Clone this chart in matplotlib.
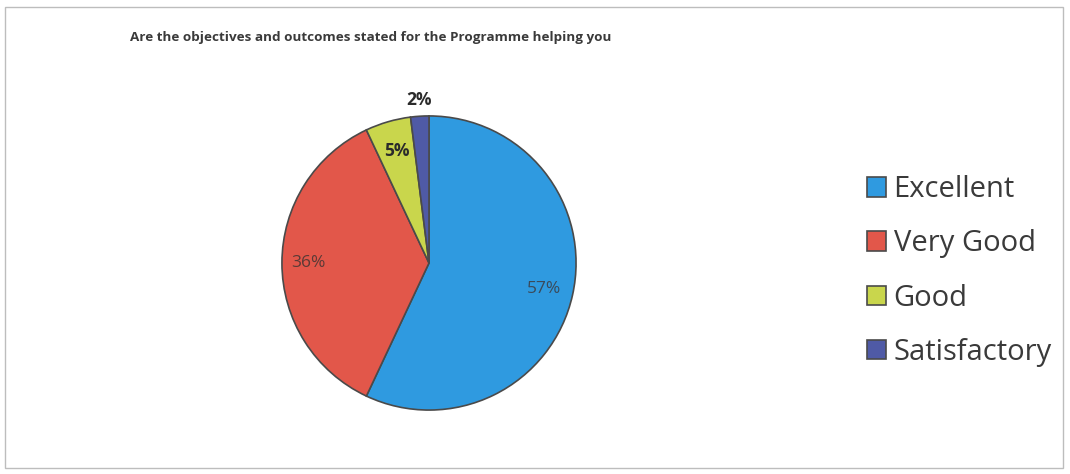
import matplotlib.pyplot as plt
import numpy as np
from matplotlib.patches import Rectangle

categories = ["Excellent", "Very Good", "Good", "Satisfactory"]
shares = [57, 36, 5, 2]
colors = ["#2f9ae0", "#e2574a", "#c9d64c", "#4f5aa6"]
label_colors = ["#3a4a5a", "#5a3a36", "#2b2b2b", "#2b2b2b"]
label_weights = ["normal", "normal", "bold", "bold"]
label_distances = [0.8, 0.82, 0.79, 1.11]
title = "Are the objectives and outcomes stated for the Programme helping you"

W, H = 1070, 474
figure = plt.figure(figsize=(W / 100, H / 100), dpi=100)
figure.patch.set_facecolor("white")

# chart frame
figure.patches.append(
    Rectangle(
        (5 / W, 6 / H), 1058 / W, 461 / H,
        transform=figure.transFigure,
        fill=False, edgecolor="#bdbdbd", linewidth=1.0,
    )
)

figure.text(
    130 / W, 1 - 38 / H, title,
    fontsize=9.7, fontweight="bold", color="#3a3a3a",
    ha="left", va="center", family="Open Sans",
)

axis = figure.add_axes([279 / W, 61 / H, 300 / W, 300 / H])
wedges, _ = axis.pie(
    shares,
    colors=colors,
    startangle=90,
    counterclock=False,
    radius=1.0,
    wedgeprops={"edgecolor": "#4a4a4a", "linewidth": 1.2},
)
axis.set_xlim(-1.02, 1.02)
axis.set_ylim(-1.02, 1.02)
axis.set_aspect("equal")
axis.axis("off")

for wedge, share, dist, col, weight in zip(
    wedges, shares, label_distances, label_colors, label_weights
):
    mid = np.deg2rad((wedge.theta1 + wedge.theta2) / 2)
    axis.text(
        dist * np.cos(mid), dist * np.sin(mid), f"{share}%",
        ha="center", va="center", fontsize=12.5,
        color=col, fontweight=weight, family="Open Sans",
    )

legend = figure.legend(
    wedges, categories,
    loc="center left",
    bbox_to_anchor=(841 / W, 1 - 271 / H),
    frameon=False,
    handlelength=0.65,
    handleheight=0.65,
    handletextpad=0.25,
    labelspacing=0.86,
    prop={"family": "Open Sans", "size": 21},
)
for text in legend.get_texts():
    text.set_color("#3a3a3a")

figure.savefig("out.png", dpi=100)
